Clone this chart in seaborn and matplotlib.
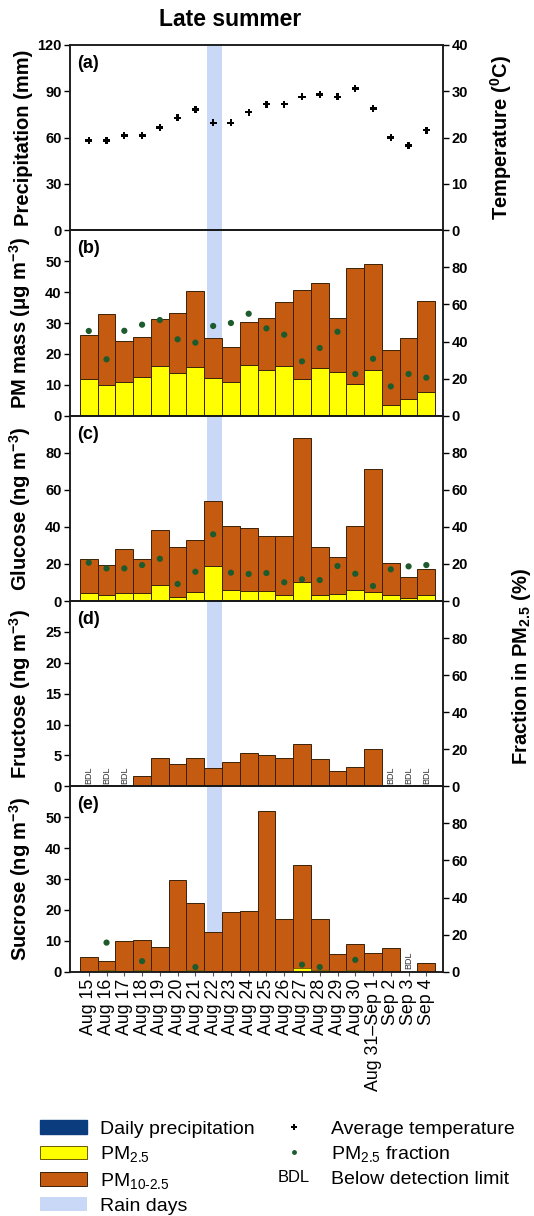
import numpy as np
import pandas as pd
import matplotlib
matplotlib.use("Agg")
import matplotlib.pyplot as plt
import seaborn as sns
from matplotlib.patches import Patch
from matplotlib.lines import Line2D
from matplotlib.legend_handler import HandlerBase
from matplotlib.text import Text

# ---------------- data ----------------
dates = ["Aug 15", "Aug 16", "Aug 17", "Aug 18", "Aug 19", "Aug 20", "Aug 21",
         "Aug 22", "Aug 23", "Aug 24", "Aug 25", "Aug 26", "Aug 27", "Aug 28",
         "Aug 29", "Aug 30", "Aug 31\u2013Sep 1", "Sep 2", "Sep 3", "Sep 4"]
rain_days = ["Aug 22"]
nan = np.nan

precip = [0, 0, 0, 0, 0, 0, 0, 0.8, 0, 0, 0, 0, 0, 0, 0, 0, 0, 0, 0, 0]
temperature = [19.4, 19.4, 20.5, 20.5, 22.2, 24.3, 26.1, 23.2, 23.2, 25.5,
               27.2, 27.2, 28.8, 29.3, 28.8, 30.6, 26.3, 20.0, 18.3, 21.6]

pm10 = [26.1, 33.0, 24.3, 25.4, 31.3, 33.4, 40.5, 25.1, 22.1, 30.3,
        31.7, 36.7, 40.8, 43.0, 31.5, 47.9, 49.2, 21.4, 25.1, 37.0]
pm25 = [11.8, 10.0, 10.8, 12.4, 16.1, 13.7, 15.9, 12.2, 10.8, 16.5,
        14.8, 16.0, 11.8, 15.3, 14.1, 10.4, 14.9, 3.3, 5.4, 7.6]
pm_frac = [45.7, 30.4, 45.8, 49.1, 51.6, 41.2, 39.4, 48.4, 50.0, 55.0,
           47.1, 43.7, 29.3, 36.5, 45.3, 22.5, 30.7, 15.8, 22.5, 20.5]

glu_total = [22.5, 19.2, 28.2, 22.8, 38.5, 28.9, 33.1, 53.9, 40.6, 39.4,
             35.1, 35.2, 87.7, 28.9, 23.6, 40.6, 71.0, 20.7, 13.1, 17.1]
glu_pm25 = [4.5, 3.2, 4.5, 4.3, 8.6, 2.3, 4.9, 18.9, 5.8, 5.2,
            5.2, 3.1, 10.2, 3.1, 4.0, 5.8, 5.0, 3.1, 1.8, 3.1]
glu_frac = [20.7, 17.6, 17.6, 19.4, 22.8, 9.2, 15.8, 36.0, 15.3, 14.6,
            15.1, 10.1, 11.7, 11.3, 18.9, 14.7, 8.1, 17.1, 18.7, 19.4]

fru_total = [nan, nan, nan, 1.7, 4.6, 3.7, 4.6, 3.0, 4.0, 5.4,
             5.1, 4.6, 6.9, 4.4, 2.5, 3.1, 6.0, nan, nan, nan]

suc_total = [4.8, 3.6, 10.0, 10.3, 8.1, 29.6, 22.2, 12.7, 19.3, 19.8,
             52.1, 17.0, 34.4, 17.0, 5.6, 8.9, 6.2, 7.8, nan, 2.8]
suc_pm25 = [0, 0.57, 0, 0.59, 0, 0, 0.55, 0, 0, 0,
            0, 0, 1.3, 0.43, 0, 0.57, 0, 0, nan, 0]
suc_frac = [nan, 15.7, nan, 5.7, nan, nan, 2.5, nan, nan, nan,
            nan, nan, 3.8, 2.5, nan, 6.4, nan, nan, nan, nan]

# ---------------- style ----------------
sns.set_style("ticks")
plt.rcParams["font.family"] = ["Liberation Sans", "DejaVu Sans"]
plt.rcParams["mathtext.fontset"] = "custom"
plt.rcParams["mathtext.rm"] = "Liberation Sans"
plt.rcParams["mathtext.it"] = "Liberation Sans:italic"
plt.rcParams["mathtext.bf"] = "Liberation Sans:bold"
for key in ("text.color", "axes.labelcolor", "xtick.color", "ytick.color",
            "axes.edgecolor"):
    plt.rcParams[key] = "black"

BROWN = "#C55A11"
YELLOW = "#FFFF00"
EDGE = "#3a2208"
GREEN = "#1E5B2C"
NAVY = "#0B3C7D"
RAIN = "#C8D8F6"

n = len(dates)
xpos = np.arange(n)
rain_idx = [dates.index(d) for d in rain_days]

fig, axes = plt.subplots(5, 1, figsize=(5.34, 12.16), dpi=100, sharex=True)
fig.subplots_adjust(left=0.131, right=0.830, top=0.963, bottom=0.2009, hspace=0)

TICK_FS = 10.5
LAB_FS = 14.5


def bars(ax, values, color, lw=0.7):
    df = pd.DataFrame({"date": dates, "v": values})
    sns.barplot(data=df, x="date", y="v", order=dates, color=color,
                saturation=1, width=1, edgecolor=EDGE, linewidth=lw,
                errorbar=None, ax=ax)


def dots(ax2, values):
    df = pd.DataFrame({"x": xpos, "v": values})
    sns.scatterplot(data=df, x="x", y="v", ax=ax2, color=GREEN, s=20,
                    edgecolor="none", legend=False, zorder=5)


def style_axis(ax, ylim, yticks, ax2, ylim2, yticks2):
    ax.set_ylim(*ylim)
    ax.set_yticks(yticks)
    ax2.set_ylim(*ylim2)
    ax2.set_yticks(yticks2)
    for a in (ax, ax2):
        a.tick_params(axis="y", direction="out", length=4, width=1,
                      labelsize=TICK_FS, pad=2, colors="black")
        for lab in a.get_yticklabels():
            lab.set_fontweight("bold")
        a.set_xlabel("")
        for s in a.spines.values():
            s.set_linewidth(1.1)
            s.set_color("#1a1a1a")
    ax2.set_ylabel("")
    for i in rain_idx:
        ax.axvspan(i - 0.36, i + 0.52, color=RAIN, lw=0, zorder=0)


twins = []
# (a) precipitation + temperature
ax = axes[0]
bars(ax, precip, NAVY, lw=0.5)
ax2 = ax.twinx()
df_t = pd.DataFrame({"x": xpos, "t": temperature})
sns.scatterplot(data=df_t, x="x", y="t", ax=ax2, marker="P", color="black",
                s=26, edgecolor="none", legend=False, zorder=5)
style_axis(ax, (0, 120), [0, 30, 60, 90, 120], ax2, (0, 40), [0, 10, 20, 30, 40])
ax.set_ylabel("Precipitation (mm)", fontsize=LAB_FS, fontweight="bold")
ax2.set_ylabel("Temperature ($^{\\mathbf{0}}$C)", fontsize=LAB_FS, fontweight="bold")
twins.append(ax2)

# (b) PM mass
ax = axes[1]
bars(ax, pm10, BROWN)
bars(ax, pm25, YELLOW)
ax2 = ax.twinx()
dots(ax2, pm_frac)
style_axis(ax, (0, 60), [0, 10, 20, 30, 40, 50], ax2, (0, 100), [0, 20, 40, 60, 80])
ax.set_ylabel("PM mass (\u03bcg m$^{\\mathbf{-3}}$)", fontsize=LAB_FS, fontweight="bold")
twins.append(ax2)

# (c) Glucose
ax = axes[2]
bars(ax, glu_total, BROWN)
bars(ax, glu_pm25, YELLOW)
ax2 = ax.twinx()
dots(ax2, glu_frac)
style_axis(ax, (0, 100), [0, 20, 40, 60, 80], ax2, (0, 100), [0, 20, 40, 60, 80])
ax.set_ylabel("Glucose (ng m$^{\\mathbf{-3}}$)", fontsize=LAB_FS, fontweight="bold")
twins.append(ax2)

# (d) Fructose
ax = axes[3]
bars(ax, fru_total, BROWN)
ax2 = ax.twinx()
style_axis(ax, (0, 30), [0, 5, 10, 15, 20, 25], ax2, (0, 100), [0, 20, 40, 60, 80])
ax.set_ylabel("Fructose (ng m$^{\\mathbf{-3}}$)", fontsize=LAB_FS, fontweight="bold")
twins.append(ax2)

# (e) Sucrose
ax = axes[4]
bars(ax, suc_total, BROWN)
bars(ax, suc_pm25, YELLOW, lw=0.4)
ax2 = ax.twinx()
dots(ax2, suc_frac)
style_axis(ax, (0, 60), [0, 10, 20, 30, 40, 50], ax2, (0, 100), [0, 20, 40, 60, 80])
ax.set_ylabel("Sucrose (ng m$^{\\mathbf{-3}}$)", fontsize=LAB_FS, fontweight="bold")
twins.append(ax2)

# BDL markers
for ax, vals in ((axes[3], fru_total), (axes[4], suc_total)):
    ymax = ax.get_ylim()[1]
    for i, v in enumerate(vals):
        if np.isnan(v):
            ax.text(i, ymax * 0.012, "BDL", rotation=90, ha="center", va="bottom",
                    fontsize=6.5, color="#333333", zorder=6)

# panel letters and label positions
for ax, letter in zip(axes, "abcde"):
    ax.text(0.02, 0.90, f"({letter})", transform=ax.transAxes, fontsize=13,
            fontweight="bold", ha="left", va="center")
    ax.yaxis.set_label_coords(-0.098, 0.5)
    ax.set_xlim(-1.06, 19.95)
    ax.set_xticks(xpos)
    ax.tick_params(axis="x", direction="out", length=3, width=0.8,
                   labelbottom=False, color="#555555")
twins[0].yaxis.set_label_coords(1.12, 0.5)

axes[4].tick_params(axis="x", labelbottom=True, labelsize=12.5, pad=2,
                    rotation=90, color="#555555", labelcolor="black")
axes[4].set_xticks(xpos)
axes[4].set_xticklabels(dates, rotation=90, fontsize=12.8)

fig.text(510 / 534, 1 - 667 / 1216, "Fraction in PM$_{\\mathbf{2.5}}$ (%)",
         rotation=90, ha="left", va="center", fontsize=LAB_FS, fontweight="bold")
fig.text(230 / 534, 1 - 20 / 1216, "Late summer", ha="center", va="center",
         fontsize=16.5, fontweight="bold")


# ---------------- legend ----------------
class BDLHandle:
    pass


class HandlerBDL(HandlerBase):
    def create_artists(self, legend, orig_handle, xdescent, ydescent, width,
                       height, fontsize, trans):
        t = Text(x=width / 2 - xdescent, y=height / 2 - ydescent, text="BDL",
                 ha="center", va="center", fontsize=fontsize * 0.85,
                 transform=trans)
        return [t]


handles = [
    Patch(facecolor=NAVY, edgecolor=NAVY),
    Patch(facecolor=YELLOW, edgecolor="#6b5a00", linewidth=0.7),
    Patch(facecolor=BROWN, edgecolor=EDGE, linewidth=0.7),
    Patch(facecolor=RAIN, edgecolor="none"),
    Line2D([], [], marker="P", color="black", linestyle="", markersize=5,
           markeredgewidth=0),
    Line2D([], [], marker="o", color=GREEN, linestyle="", markersize=3.5,
           markeredgewidth=0),
    BDLHandle(),
]
labels = ["Daily precipitation", "PM$_{2.5}$", "PM$_{10\\text{-}2.5}$", "Rain days",
          "Average temperature", "PM$_{2.5}$ fraction", "Below detection limit"]
fig.legend(handles, labels, ncol=2, loc="upper left",
           bbox_to_anchor=(40 / 534, 1 - 1120 / 1216), frameon=False,
           fontsize=14, handlelength=2.4, handleheight=0.7, labelspacing=0.34,
           columnspacing=0.8, handletextpad=0.7, borderpad=0, borderaxespad=0,
           handler_map={BDLHandle: HandlerBDL()})

fig.savefig("out.png", dpi=100)
